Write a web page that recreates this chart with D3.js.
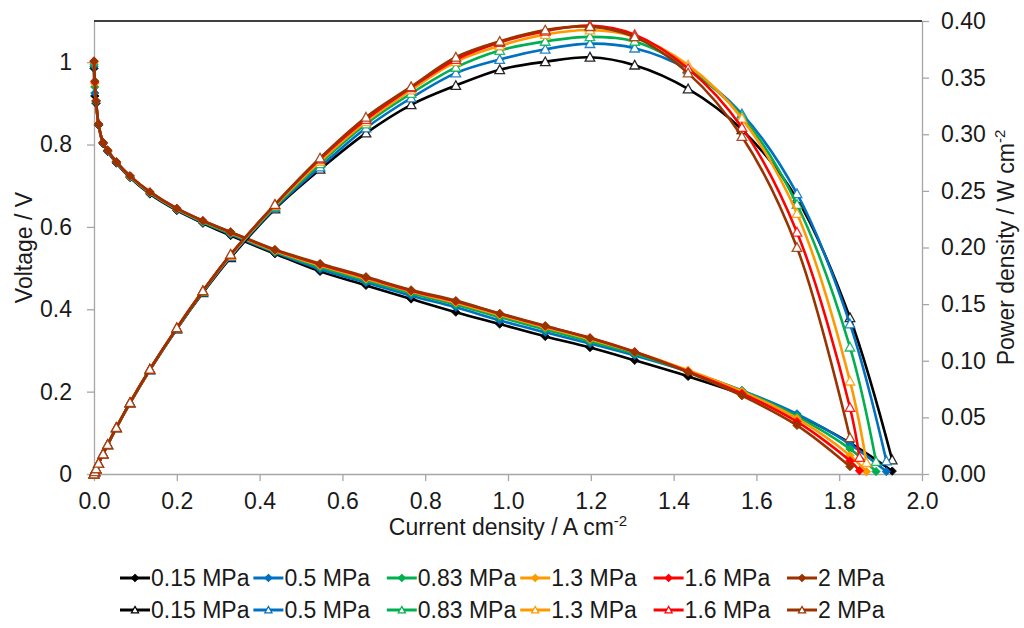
<!DOCTYPE html>
<html>
<head>
<meta charset="utf-8">
<script src="https://cdn.jsdelivr.net/npm/d3@7"></script>
<style>
  html, body { margin: 0; padding: 0; background: #fff; }
  svg { display: block; font-family: "Liberation Sans", Arial, sans-serif; }
</style>
</head>
<body>
<svg id="chart" width="1024" height="628"></svg>
<script>
// ---- data -------------------------------------------------------------
const pressureLabels = ["0.15 MPa", "0.5 MPa", "0.83 MPa", "1.3 MPa", "1.6 MPa", "2 MPa"];

// current density shared by all series (A cm-2)
const currentDensity = [0, 0.002, 0.005, 0.011, 0.022, 0.033, 0.054, 0.087, 0.135, 0.2,
  0.263, 0.33, 0.437, 0.546, 0.657, 0.766, 0.874, 0.98, 1.09, 1.198,
  1.306, 1.435, 1.565, 1.698, 1.826];
// extra end point of each series (null = series stops at the last shared point)
const lastCurrent = [1.928, 1.914, 1.889, 1.866, 1.849, null];

// cell voltage (V)
const voltage015 = [0.985, 0.918, 0.900, 0.847, 0.802, 0.783, 0.755, 0.720, 0.680, 0.640, 0.609, 0.579, 0.535, 0.492, 0.458, 0.425, 0.393, 0.364, 0.334, 0.307, 0.276, 0.237, 0.194, 0.143, 0.0755, 0.007];
const voltage05  = [0.990, 0.925, 0.903, 0.848, 0.803, 0.784, 0.756, 0.721, 0.682, 0.642, 0.611, 0.582, 0.538, 0.497, 0.465, 0.433, 0.405, 0.373, 0.344, 0.317, 0.288, 0.249, 0.203, 0.146, 0.0725, 0.006];
const voltage083 = [0.995, 0.940, 0.905, 0.849, 0.804, 0.785, 0.757, 0.722, 0.683, 0.643, 0.612, 0.584, 0.540, 0.502, 0.470, 0.439, 0.411, 0.381, 0.351, 0.322, 0.292, 0.249, 0.202, 0.140, 0.061, 0.006];
const voltage13  = [1.000, 0.948, 0.906, 0.850, 0.805, 0.786, 0.758, 0.723, 0.684, 0.644, 0.614, 0.586, 0.542, 0.506, 0.474, 0.443, 0.416, 0.386, 0.356, 0.327, 0.296, 0.252, 0.2006, 0.135, 0.045, 0.0055];
const voltage16  = [1.002, 0.952, 0.906, 0.850, 0.805, 0.786, 0.758, 0.724, 0.685, 0.645, 0.615, 0.587, 0.544, 0.509, 0.477, 0.445, 0.419, 0.389, 0.359, 0.331, 0.297, 0.249, 0.1955, 0.127, 0.032, 0.008];
const voltage2   = [1.003, 0.954, 0.906, 0.850, 0.805, 0.786, 0.758, 0.724, 0.685, 0.645, 0.615, 0.588, 0.545, 0.511, 0.479, 0.447, 0.421, 0.390, 0.360, 0.330, 0.296, 0.247, 0.190, 0.118, 0.018];

// power density (W cm-2)
const power015 = [0, 0.0018, 0.0045, 0.0093, 0.0176, 0.0258, 0.0408, 0.0626, 0.0918, 0.128, 0.160, 0.191, 0.234, 0.269, 0.301, 0.326, 0.343, 0.357, 0.364, 0.368, 0.361, 0.340, 0.304, 0.243, 0.138, 0.0124];
const power05  = [0, 0.0019, 0.0045, 0.0093, 0.0177, 0.0259, 0.0408, 0.0627, 0.0921, 0.128, 0.161, 0.192, 0.235, 0.271, 0.3055, 0.332, 0.354, 0.366, 0.375, 0.380, 0.376, 0.357, 0.318, 0.2475, 0.1325, 0.0115];
const power083 = [0, 0.0019, 0.0045, 0.0093, 0.0177, 0.0259, 0.0409, 0.0628, 0.0922, 0.1286, 0.161, 0.193, 0.236, 0.274, 0.309, 0.336, 0.359, 0.374, 0.382, 0.386, 0.382, 0.358, 0.316, 0.238, 0.112, 0.011];
const power13  = [0, 0.0019, 0.0045, 0.0094, 0.0177, 0.0259, 0.0409, 0.0629, 0.0923, 0.1288, 0.1615, 0.193, 0.237, 0.276, 0.311, 0.339, 0.364, 0.378, 0.388, 0.392, 0.386, 0.361, 0.314, 0.230, 0.082, 0.010];
const power16  = [0, 0.0019, 0.0045, 0.0094, 0.0177, 0.0259, 0.0409, 0.063, 0.0925, 0.129, 0.1617, 0.1937, 0.2377, 0.278, 0.313, 0.341, 0.366, 0.381, 0.391, 0.396, 0.388, 0.358, 0.306, 0.2135, 0.0587, 0.0145];
const power2   = [0, 0.0019, 0.0045, 0.0094, 0.0177, 0.0259, 0.0409, 0.063, 0.0925, 0.129, 0.1617, 0.194, 0.238, 0.279, 0.315, 0.342, 0.368, 0.382, 0.392, 0.395, 0.386, 0.354, 0.298, 0.200, 0.032];

// axis ticks
const currentTicks = [0, 0.2, 0.4, 0.6, 0.8, 1.0, 1.2, 1.4, 1.6, 1.8, 2.0];
const voltageTicks = [0, 0.2, 0.4, 0.6, 0.8, 1];
const voltageTickLabels = ["0", "0.2", "0.4", "0.6", "0.8", "1"];
const powerTicks = [0, 0.05, 0.10, 0.15, 0.20, 0.25, 0.30, 0.35, 0.40];

// ---- styling ----------------------------------------------------------
const seriesColors = ["#000000", "#0070C0", "#00B050", "#FF9900", "#FF0000", "#993300"];
const axisGrey = "#a6a6a6";
const textColor = "#1a1a1a";
const fontSize = 23;

const voltageSets = [voltage015, voltage05, voltage083, voltage13, voltage16, voltage2];
const powerSets = [power015, power05, power083, power13, power16, power2];

const series = pressureLabels.map((label, i) => {
  const pts = currentDensity.map((c, j) => ({ c, v: voltageSets[i][j], p: powerSets[i][j] }));
  if (lastCurrent[i] !== null) {
    pts.push({ c: lastCurrent[i], v: voltageSets[i][currentDensity.length], p: powerSets[i][currentDensity.length] });
  }
  return { label, color: seriesColors[i], pts };
});

// ---- scales -----------------------------------------------------------
const plot = { left: 94, right: 922, top: 21, bottom: 474 };
const x = d3.scaleLinear().domain([0, 2]).range([plot.left, plot.right]);
const yV = d3.scaleLinear().domain([0, 1.1]).range([plot.bottom, plot.top]);
const yP = d3.scaleLinear().domain([0, 0.4]).range([plot.bottom, plot.top]);

const svg = d3.select("#chart");

// ---- axes -------------------------------------------------------------
function styleAxis(g) {
  g.select(".domain").attr("stroke", axisGrey).attr("stroke-width", 1.3);
  g.selectAll(".tick line").attr("stroke", axisGrey).attr("stroke-width", 1.3);
  g.selectAll(".tick text").attr("fill", textColor).style("font-size", fontSize + "px")
    .style("font-family", '"Liberation Sans", Arial, sans-serif');
}

svg.append("g")
  .attr("transform", `translate(0,${plot.bottom})`)
  .call(d3.axisBottom(x).tickValues(currentTicks).tickFormat(d3.format(".1f"))
    .tickSize(7).tickSizeOuter(0).tickPadding(12))
  .call(styleAxis);

svg.append("g")
  .attr("transform", `translate(${plot.left},0)`)
  .call(d3.axisLeft(yV).tickValues(voltageTicks).tickFormat((d, i) => voltageTickLabels[i])
    .tickSize(7).tickSizeOuter(0).tickPadding(15))
  .call(styleAxis);

svg.append("g")
  .attr("transform", `translate(${plot.right},0)`)
  .call(d3.axisRight(yP).tickValues(powerTicks).tickFormat(d3.format(".2f"))
    .tickSize(7).tickSizeOuter(0).tickPadding(12))
  .call(styleAxis);

// top frame line of the plot area
svg.append("line")
  .attr("x1", plot.left).attr("x2", plot.right)
  .attr("y1", plot.top).attr("y2", plot.top)
  .attr("stroke", "#000").attr("stroke-width", 1.5);

// ---- axis titles ------------------------------------------------------
const xTitle = svg.append("text")
  .attr("x", (plot.left + plot.right) / 2).attr("y", 535)
  .attr("text-anchor", "middle").attr("fill", textColor).style("font-size", fontSize + "px");
xTitle.append("tspan").text("Current density / A cm");
xTitle.append("tspan").attr("dy", -9).style("font-size", "15px").text("-2");

svg.append("text")
  .attr("transform", `translate(32,${(plot.top + plot.bottom) / 2}) rotate(-90)`)
  .attr("text-anchor", "middle").attr("fill", textColor).style("font-size", fontSize + "px")
  .text("Voltage / V");

const yTitle = svg.append("text")
  .attr("transform", `translate(1014,${(plot.top + plot.bottom) / 2}) rotate(-90)`)
  .attr("text-anchor", "middle").attr("fill", textColor).style("font-size", fontSize + "px");
yTitle.append("tspan").text("Power density / W cm");
yTitle.append("tspan").attr("dy", -9).style("font-size", "15px").text("-2");

// ---- marks ------------------------------------------------------------
const diamond = r => `M0,${-r}L${r},0L0,${r}L${-r},0Z`;
const triangle = r => `M0,${-r}L${r},${r * 0.8}L${-r},${r * 0.8}Z`;

const vLine = d3.line().x(d => x(d.c)).y(d => yV(d.v)).curve(d3.curveCatmullRom.alpha(0.5));
const pLine = d3.line().x(d => x(d.c)).y(d => yP(d.p)).curve(d3.curveCatmullRom.alpha(0.5));

const marks = svg.append("g");

// voltage curves with filled diamonds
series.forEach(s => {
  const g = marks.append("g");
  g.append("path").attr("d", vLine(s.pts)).attr("fill", "none")
    .attr("stroke", s.color).attr("stroke-width", 2.6).attr("stroke-linejoin", "round");
  g.selectAll("path.m").data(s.pts).join("path").attr("class", "m")
    .attr("transform", d => `translate(${x(d.c)},${yV(d.v)})`)
    .attr("d", diamond(4.2)).attr("fill", s.color).attr("stroke", s.color).attr("stroke-width", 0.8);
});

// power density curves with open triangles
series.forEach(s => {
  const g = marks.append("g");
  g.append("path").attr("d", pLine(s.pts)).attr("fill", "none")
    .attr("stroke", s.color).attr("stroke-width", 2.6).attr("stroke-linejoin", "round");
  g.selectAll("path.m").data(s.pts).join("path").attr("class", "m")
    .attr("transform", d => `translate(${x(d.c)},${yP(d.p)})`)
    .attr("d", triangle(4.8)).attr("fill", "#fff").attr("stroke", s.color)
    .attr("stroke-width", 1.3).attr("stroke-opacity", 0.85);
});

// ---- legend -----------------------------------------------------------
const legendRows = [
  { y: 578, marker: diamond(3.5), fill: c => c },
  { y: 610, marker: triangle(3.6), fill: () => "#fff" }
];
legendRows.forEach(row => {
  series.forEach((s, i) => {
    const sx = 120 + i * 133.4;
    const g = svg.append("g");
    g.append("line").attr("x1", sx).attr("x2", sx + 30).attr("y1", row.y).attr("y2", row.y)
      .attr("stroke", s.color).attr("stroke-width", 3);
    g.append("path").attr("transform", `translate(${sx + 15},${row.y})`).attr("d", row.marker)
      .attr("fill", row.fill(s.color)).attr("stroke", s.color).attr("stroke-width", 1.2);
    g.append("text").attr("x", sx + 31).attr("y", row.y + 8)
      .attr("fill", textColor).style("font-size", fontSize + "px").text(s.label);
  });
});
</script>
</body>
</html>
